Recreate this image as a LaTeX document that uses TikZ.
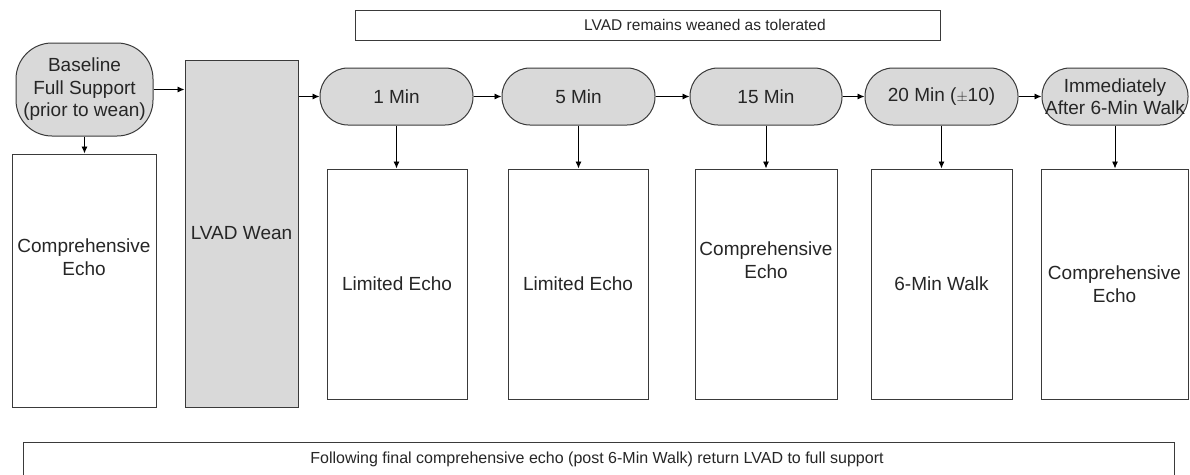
\documentclass[tikz,border=0pt]{standalone}
\usepackage{fontspec}
\setmainfont{Liberation Sans}
\usetikzlibrary{arrows.meta,positioning}
\definecolor{boxgray}{HTML}{D9D9D9}
\definecolor{linegray}{HTML}{3A3A3A}
\definecolor{textgray}{HTML}{262626}
\tikzset{
  box/.style={draw=linegray, line width=1pt, rectangle, inner sep=0pt, text=textgray,
    font=\fontsize{19}{22.5}\selectfont, align=center},
  graybox/.style={box, fill=boxgray},
  pill/.style={box, fill=boxgray, rounded corners=28pt},
  lbl/.style={inner sep=0pt, text=textgray, font=\fontsize{19}{22.5}\selectfont, align=center},
  conn/.style={draw=black, line width=0.9pt, -{Latex[length=7pt,width=6pt]}}
}
\begin{document}
\begin{tikzpicture}[x=1pt,y=-1pt]
\useasboundingbox (0,0) rectangle (1190,474);
\fill[white] (0,0) rectangle (1190,474);
% top banner
\node[box, minimum width=585pt, minimum height=30pt] (top) at (647.5,25) {};
\node[lbl, font=\fontsize{15.5}{18}\selectfont] (topt) at (705,25) {LVAD remains weaned as tolerated};
% baseline
\node[box, fill=boxgray, rounded corners=36pt, minimum width=137pt, minimum height=93pt] (base) at (84.5,89.5) {Baseline\\Full Support\\(prior to wean)};
\node[box, minimum width=144pt, minimum height=253pt] (echo0) at (84,280.5) {};
\node[lbl] (echo0t) at (84,257) {Comprehensive\\Echo};
% wean
\node[graybox, minimum width=113pt, minimum height=347pt] (wean) at (241.5,233.5) {LVAD Wean};
% time points
\node[pill, minimum width=153pt, minimum height=57pt] (m1) at (396.5,96.5) {1 Min};
\node[pill, minimum width=153pt, minimum height=57pt] (m5) at (578.5,96.5) {5 Min};
\node[pill, minimum width=152pt, minimum height=57pt] (m15) at (766,96.5) {15 Min};
\node[pill, minimum width=153pt, minimum height=57pt] (m20) at (941.5,96.5) {20 Min ({\fontsize{15}{18}\selectfont$\pm$}10)};
\node[pill, minimum width=146pt, minimum height=57pt] (mimm) at (1115,96.5) {Immediately\\After 6-Min Walk};
% results
\node[box, minimum width=140pt, minimum height=230pt] (e1) at (397,284) {Limited Echo};
\node[box, minimum width=140pt, minimum height=230pt] (e5) at (578,284) {Limited Echo};
\node[box, minimum width=142pt, minimum height=230pt] (e15) at (766,284) {};
\node[lbl] (e15t) at (766,260) {Comprehensive\\Echo};
\node[box, minimum width=141pt, minimum height=230pt] (e20) at (941.5,284) {6-Min Walk};
\node[box, minimum width=147pt, minimum height=230pt] (eimm) at (1114.5,284) {Comprehensive\\Echo};
% bottom banner
\node[box, minimum width=1151pt, minimum height=36pt] (bot) at (598.5,460) {};
\node[inner sep=0pt, text=textgray, font=\fontsize{16}{18}\selectfont] (bott) at (597,459) {Following final comprehensive echo (post 6-Min Walk) return LVAD to full support};
% connectors
\draw[conn] (base.east) -- (base.east -| wean.west);
\draw[conn] (base.south) -- (base.south |- echo0.north);
\draw[conn] (m1.west -| wean.east) -- (m1.west);
\draw[conn] (m1) -- (m5);
\draw[conn] (m5) -- (m15);
\draw[conn] (m15) -- (m20);
\draw[conn] (m20) -- (mimm);
\draw[conn] (m1.south) -- (m1.south |- e1.north);
\draw[conn] (m5.south) -- (m5.south |- e5.north);
\draw[conn] (m15.south) -- (m15.south |- e15.north);
\draw[conn] (m20.south) -- (m20.south |- e20.north);
\draw[conn] (mimm.south) -- (mimm.south |- eimm.north);
\end{tikzpicture}
\end{document}
